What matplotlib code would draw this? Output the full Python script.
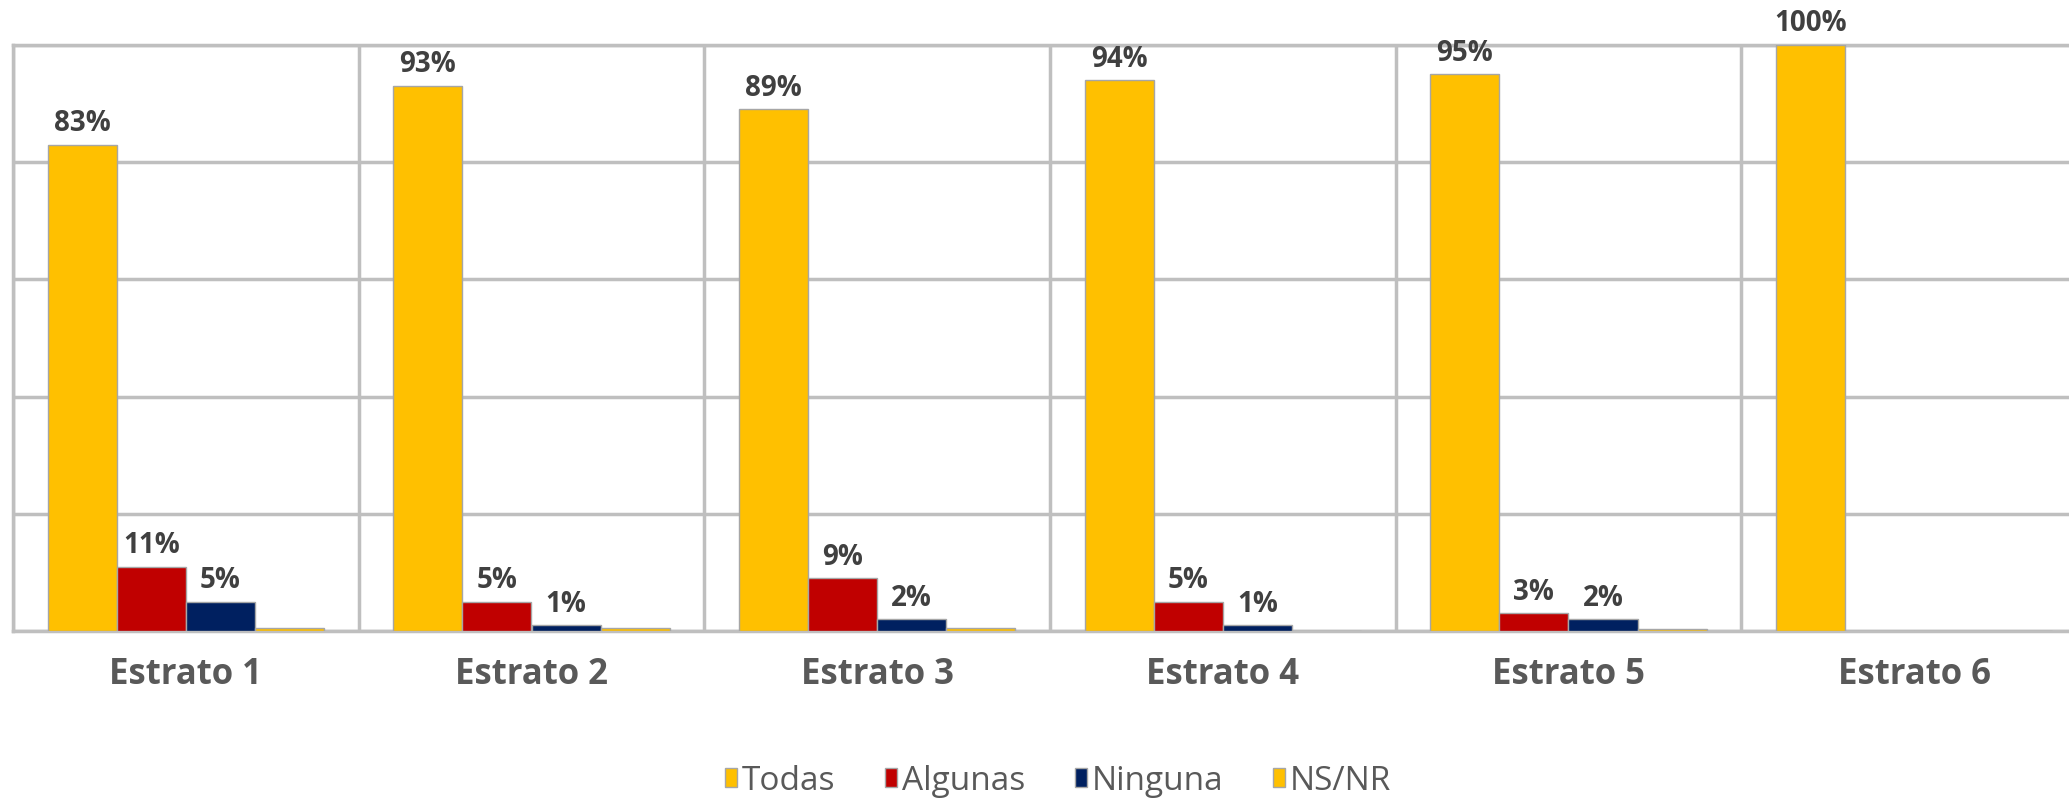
import matplotlib.pyplot as plt
import numpy as np

plt.rcParams['font.family'] = ['Open Sans', 'DejaVu Sans']

categories = ['Estrato 1', 'Estrato 2', 'Estrato 3', 'Estrato 4', 'Estrato 5', 'Estrato 6']
series = ['Todas', 'Algunas', 'Ninguna', 'NS/NR']
todas = [83, 93, 89, 94, 95, 100]
algunas = [11, 5, 9, 5, 3, 0]
ninguna = [5, 1, 2, 1, 2, 0]
nsnr = [0.5, 0.5, 0.5, 0, 0.4, 0]

values = [todas, algunas, ninguna, nsnr]
colors = ['#FFC000', '#C00000', '#002060', '#FFC000']
show_labels = [True, True, True, False]

fig = plt.figure(figsize=(20.69, 8.03), dpi=100)
ax = fig.add_axes([13 / 2069, 1 - 632 / 803, 2074 / 2069, 586 / 803])

x = np.arange(len(categories))
width = 0.2
offsets = [-0.3, -0.1, 0.1, 0.3]

for vals, col, off, name, lab in zip(values, colors, offsets, series, show_labels):
    bars = ax.bar(x + off, vals, width, color=col, edgecolor='#A6A6A6',
                  linewidth=1, label=name, zorder=3)
    if lab:
        for b, v in zip(bars, vals):
            if v >= 1:
                ax.text(b.get_x() + b.get_width() / 2, v + 1.3, f'{v}%',
                        ha='center', va='bottom', fontsize=20,
                        fontweight='bold', color='#404040')

ax.set_xlim(-0.5, len(categories) - 0.5)
ax.set_ylim(0, 100)
ax.set_yticks([0, 20, 40, 60, 80, 100])
ax.set_yticklabels([])
ax.set_xticks(x)
ax.set_xticklabels(categories, fontsize=25, fontweight='bold', color='#595959')
ax.set_xticks(np.arange(len(categories) + 1) - 0.5, minor=True)
ax.tick_params(axis='both', which='both', length=0)
ax.tick_params(axis='x', pad=18)
ax.grid(axis='y', color='#BFBFBF', linewidth=2.5, zorder=0)
ax.grid(axis='x', which='minor', color='#BFBFBF', linewidth=2.5, zorder=0)
ax.grid(axis='x', which='major', visible=False)
for s in ax.spines.values():
    s.set_color('#BFBFBF')
    s.set_linewidth(2.5)

fig.legend(loc='center', bbox_to_anchor=(1058 / 2069, 1 - 782 / 803), ncol=4,
           frameon=False, fontsize=24, handlelength=0.35, handleheight=0.5,
           handletextpad=0.15, columnspacing=1.5, labelcolor='#595959')

fig.savefig('out.png', dpi=100)
